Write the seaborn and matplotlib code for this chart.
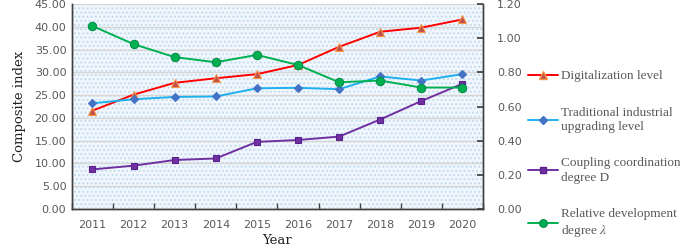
import numpy as np
import pandas as pd
import matplotlib
matplotlib.use("Agg")
import matplotlib.pyplot as plt
import seaborn as sns
from matplotlib.lines import Line2D
from matplotlib.patches import Rectangle

# data
years = ["2011", "2012", "2013", "2014", "2015", "2016", "2017", "2018", "2019", "2020"]
digitalization = [21.6, 25.1, 27.7, 28.7, 29.6, 31.6, 35.6, 38.9, 39.8, 41.6]
traditional = [23.2, 24.1, 24.6, 24.7, 26.5, 26.6, 26.3, 29.1, 28.2, 29.6]
coupling_d = [0.232, 0.254, 0.287, 0.296, 0.393, 0.404, 0.424, 0.524, 0.632, 0.733]
relative_lambda = [1.071, 0.965, 0.889, 0.859, 0.902, 0.843, 0.742, 0.752, 0.711, 0.711]

left_ticks = [0, 5, 10, 15, 20, 25, 30, 35, 40, 45]
right_ticks = [0, 0.2, 0.4, 0.6, 0.8, 1.0, 1.2]

labels = ["Digitalization level",
          "Traditional industrial\nupgrading level",
          "Coupling coordination\ndegree D",
          "Relative development\ndegree $\\lambda$"]

sns.set_theme(style="white")
plt.rcParams["font.family"] = ["DejaVu Sans"]
plt.rcParams["mathtext.fontset"] = "stix"

df_left = pd.DataFrame({"Year": years * 2,
                        "value": digitalization + traditional,
                        "series": [labels[0]] * 10 + [labels[1]] * 10})
df_right = pd.DataFrame({"Year": years * 2,
                         "value": coupling_d + relative_lambda,
                         "series": [labels[2]] * 10 + [labels[3]] * 10})

fig = plt.figure(figsize=(6.85, 2.48), dpi=100)
ax = fig.add_axes([0.105, 0.157, 0.600, 0.827])
ax2 = ax.twinx()

# dotted light-blue background
ax.set_facecolor("#f1f7fd")
ax.add_patch(Rectangle((0, 0), 1, 1, transform=ax.transAxes, facecolor="none",
                       edgecolor="#c4dcf0", hatch="....", linewidth=0, zorder=0))
ax.yaxis.grid(True, color="#d6d6d6", linewidth=1.0, zorder=1)
ax.set_axisbelow(True)

styles = {
    labels[0]: dict(color="#ff0000", marker="^", mfc="#c0504d", mec="#f79646", ms=6),
    labels[1]: dict(color="#1fb0ee", marker="D", mfc="#4472c4", mec="#4472c4", ms=4.5),
    labels[2]: dict(color="#7030a0", marker="s", mfc="#7030a0", mec="#5a2090", ms=5),
    labels[3]: dict(color="#00b050", marker="o", mfc="#00b050", mec="#00904a", ms=6),
}

for lab, sub_ax, df in [(labels[0], ax, df_left), (labels[1], ax, df_left),
                        (labels[2], ax2, df_right), (labels[3], ax2, df_right)]:
    st = styles[lab]
    sns.lineplot(data=df[df["series"] == lab], x="Year", y="value", ax=sub_ax,
                 color=st["color"], marker=st["marker"], markersize=st["ms"],
                 markerfacecolor=st["mfc"], markeredgecolor=st["mec"],
                 markeredgewidth=0.8, linewidth=1.4, sort=False, legend=False)

ax.set_xlim(-0.5, 9.5)
ax.set_ylim(0, 45)
ax2.set_ylim(0, 1.2)
ax.set_yticks(left_ticks)
ax.set_yticklabels([f"{t:.2f}" for t in left_ticks])
ax2.set_yticks(right_ticks)
ax2.set_yticklabels([f"{t:.2f}" for t in right_ticks])
ax.set_xticks(range(len(years)))
ax.set_xticklabels(years)
ax.set_xticks(np.arange(-0.5, 10, 1), minor=True)

tick_color = "#595959"
ax.tick_params(axis="x", which="major", length=0, pad=8, labelsize=8, labelcolor=tick_color)
ax.tick_params(axis="x", which="minor", direction="in", length=4, color="#404040", bottom=True)
ax.tick_params(axis="y", length=0, labelsize=8, labelcolor=tick_color, pad=4)
ax2.tick_params(axis="y", direction="in", length=4, color="#404040", labelsize=8,
                labelcolor=tick_color, pad=10)

for a in (ax, ax2):
    a.spines["top"].set_visible(False)
    for s in ["left", "bottom", "right"]:
        a.spines[s].set_color("#404040")
        a.spines[s].set_linewidth(1.0)

ax.set_xlabel("Year", family="DejaVu Serif", fontsize=9.5, color="#222222", labelpad=3)
ax.set_ylabel("Composite index", family="DejaVu Serif", fontsize=9.5, color="#222222", labelpad=6)
ax2.set_ylabel("")

handles = []
for lab in labels:
    st = styles[lab]
    handles.append(Line2D([], [], color=st["color"], marker=st["marker"],
                          markersize=st["ms"] * 0.9, markerfacecolor=st["mfc"],
                          markeredgecolor=st["mec"], linewidth=1.4))
leg = fig.legend(handles, labels, loc="upper left", bbox_to_anchor=(0.753, 0.765),
                 frameon=False, handlelength=2.3, handletextpad=0.2, labelspacing=1.85,
                 prop={"family": "Liberation Serif", "size": 9.5}, labelcolor="#595959")
for t in leg.get_texts():
    t.set_linespacing(1.25)

plt.savefig("out.png", dpi=100)
